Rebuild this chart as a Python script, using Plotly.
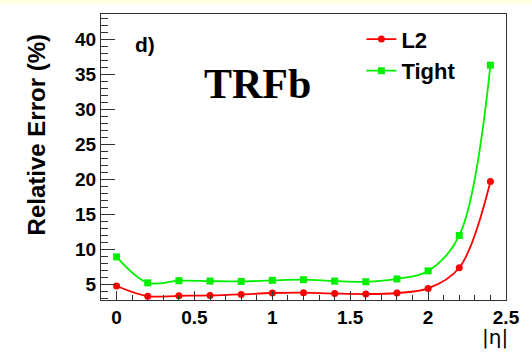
import plotly.graph_objects as go

# |eta| bin centres and relative errors (%) for the two b-tagging working points
eta = [0.0, 0.2, 0.4, 0.6, 0.8, 1.0, 1.2, 1.4, 1.6, 1.8, 2.0, 2.2, 2.4]
err_l2 = [4.8, 3.35, 3.4, 3.45, 3.6, 3.8, 3.85, 3.72, 3.65, 3.8, 4.45, 7.4, 19.7]
err_tight = [8.95, 5.25, 5.55, 5.5, 5.45, 5.6, 5.7, 5.5, 5.4, 5.8, 6.95, 12.0, 36.3]

y_ticks = [5, 10, 15, 20, 25, 30, 35, 40]
x_ticks = [0, 0.5, 1, 1.5, 2, 2.5]
x_tick_text = ["0", "0.5", "1", "1.5", "2", "2.5"]

SANS = "Liberation Sans"

fig = go.Figure()
fig.add_trace(go.Scatter(
    x=eta, y=err_l2, name="L2", mode="lines+markers",
    line=dict(color="#ff0000", width=1.8, shape="spline", smoothing=1.0),
    marker=dict(symbol="circle", size=7, color="#ff0000"),
))
fig.add_trace(go.Scatter(
    x=eta, y=err_tight, name="Tight", mode="lines+markers",
    line=dict(color="#00f000", width=1.8, shape="spline", smoothing=1.0),
    marker=dict(symbol="square", size=7, color="#00f000"),
))

axis_common = dict(
    showline=True, linecolor="#333333", linewidth=1, mirror=True,
    showgrid=False, zeroline=False,
    ticks="inside", tickcolor="#333333",
    tickfont=dict(family=SANS, size=19, color="black", weight="bold"),
)

fig.update_xaxes(
    range=[-0.1, 2.5], tickvals=x_ticks, ticktext=x_tick_text,
    ticklen=9, tickwidth=1,
    minor=dict(dtick=0.1, tick0=0, ticks="inside", ticklen=5, tickcolor="#333333"),
    **axis_common,
)
fig.update_yaxes(
    range=[2.8, 43.6], tickvals=y_ticks, ticklen=14, tickwidth=1,
    minor=dict(dtick=1, tick0=0, ticks="inside", ticklen=7, tickcolor="#333333"),
    **axis_common,
)

fig.update_layout(
    width=532, height=354,
    margin=dict(l=101, r=16, t=14, b=54),
    paper_bgcolor="white", plot_bgcolor="white",
    showlegend=True,
    legend=dict(
        x=0.643, y=0.985, xanchor="left", yanchor="top",
        bgcolor="rgba(0,0,0,0)", borderwidth=0,
        font=dict(family=SANS, size=22, color="black", weight="bold"),
        itemwidth=30, tracegroupgap=0,
    ),
    shapes=[dict(
        type="rect", xref="paper", yref="paper",
        x0=-0.3, x1=1.1, y0=1.035, y1=1.06,
        fillcolor="#fefee2", line=dict(width=0), layer="below",
    )],
    annotations=[
        dict(text="Relative Error (%)", xref="paper", yref="paper",
             x=-0.157, y=0.577, xanchor="center", yanchor="middle",
             textangle=-90, showarrow=False,
             font=dict(family=SANS, size=24, color="black", weight="bold")),
        dict(text="|η|", xref="paper", yref="paper",
             x=1.01, y=-0.13, xanchor="right", yanchor="middle",
             showarrow=False,
             font=dict(family="DejaVu Sans", size=20, color="black")),
        dict(text="d)", xref="paper", yref="paper",
             x=0.108, y=0.895, xanchor="center", yanchor="middle",
             showarrow=False,
             font=dict(family=SANS, size=21, color="black", weight="bold")),
        dict(text="TRFb", xref="paper", yref="paper",
             x=0.386, y=0.755, xanchor="center", yanchor="middle",
             showarrow=False,
             font=dict(family="Liberation Serif", size=42, color="black", weight="bold")),
    ],
)

fig.write_html("out.html")
